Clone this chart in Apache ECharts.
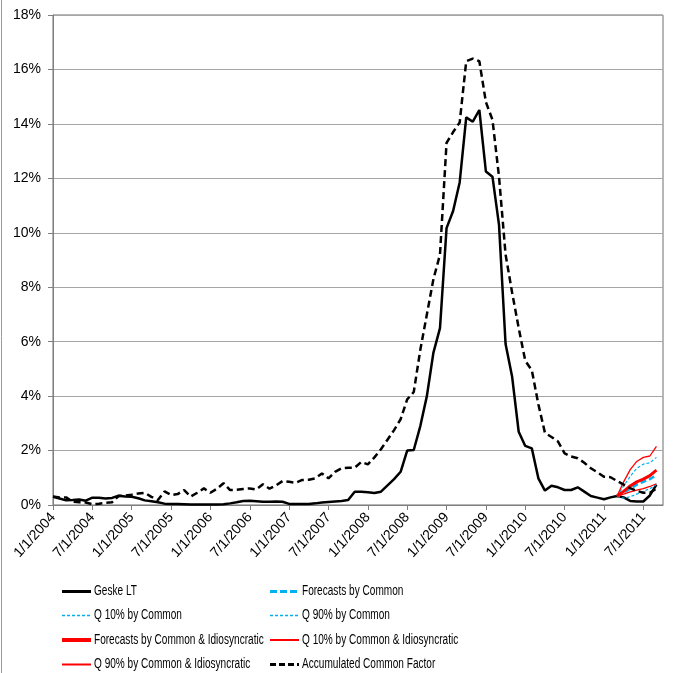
<!DOCTYPE html>
<html>
<head>
	<meta http-equiv="content-type" content="text/html;charset=utf-8">
	<title>Geske LT</title>
	<script src="https://cdn.jsdelivr.net/npm/echarts@6/dist/echarts.min.js" type="text/javascript"></script>
	<style>
		html, body { margin: 0; padding: 0; background: #fff; }
		#chartcontainer1 { width: 675px; height: 673px; }
	</style>
</head>
<body>
<div id="chartcontainer1"></div>
<script type="text/javascript">
	// monthly data, Jan 2004 .. Sep 2011 (values in %)
	var geskeLT = [
		0.30, 0.24, 0.17, 0.18, 0.20, 0.16, 0.27, 0.27, 0.24, 0.26, 0.34, 0.31,
		0.30, 0.25, 0.17, 0.14, 0.10, 0.05, 0.04, 0.04, 0.03, 0.02, 0.02, 0.02,
		0.02, 0.02, 0.03, 0.06, 0.10, 0.15, 0.16, 0.14, 0.12, 0.12, 0.13, 0.12,
		0.04, 0.04, 0.04, 0.04, 0.06, 0.09, 0.11, 0.13, 0.15, 0.18, 0.49, 0.49,
		0.47, 0.44, 0.49, 0.72, 0.95, 1.22, 2.00, 2.02, 2.90, 4.00, 5.60, 6.50,
		10.17, 10.80, 11.85, 14.24, 14.08, 14.51, 12.25, 12.06, 10.29, 5.91, 4.71, 2.69,
		2.17, 2.08, 0.98, 0.53, 0.71, 0.65, 0.55, 0.55, 0.65, 0.49, 0.33, 0.27,
		0.21, 0.28, 0.33, 0.28, 0.15, 0.13, 0.13, 0.35, 0.75
	];
	var accumCommon = [
		0.31, 0.28, 0.28, 0.12, 0.10, 0.09, 0.03, 0.05, 0.08, 0.10, 0.33, 0.35,
		0.38, 0.42, 0.45, 0.30, 0.18, 0.50, 0.37, 0.40, 0.55, 0.31, 0.45, 0.61,
		0.45, 0.60, 0.80, 0.55, 0.56, 0.59, 0.61, 0.57, 0.76, 0.60, 0.72, 0.88,
		0.85, 0.82, 0.92, 0.93, 0.98, 1.16, 0.98, 1.22, 1.35, 1.37, 1.37, 1.58,
		1.49, 1.75, 2.05, 2.40, 2.75, 3.15, 3.88, 4.15, 5.70, 7.00, 8.30, 9.20,
		13.30, 13.70, 14.05, 16.30, 16.40, 16.30, 14.80, 14.15, 12.06, 9.20, 7.80, 6.50,
		5.30, 4.95, 3.70, 2.65, 2.50, 2.33, 1.90, 1.78, 1.72, 1.55, 1.35, 1.20,
		1.04, 1.02, 0.88, 0.75, 0.62, 0.52, 0.45, 0.45, 0.60
	];

	// forecasts start at Mar 2011 (month index 86)
	var forecastStart = 86;
	var fcCommon   = [0.33, 0.45, 0.60, 0.75, 0.85, 0.95, 1.10];
	var q10Common  = [0.33, 0.25, 0.30, 0.40, 0.50, 0.60, 0.75];
	var q90Common  = [0.33, 0.70, 1.05, 1.35, 1.50, 1.55, 1.75];
	var fcIdio     = [0.33, 0.50, 0.70, 0.85, 0.95, 1.08, 1.28];
	var q10Idio    = [0.33, 0.40, 0.48, 0.55, 0.60, 0.68, 0.78];
	var q90Idio    = [0.33, 0.85, 1.30, 1.60, 1.75, 1.80, 2.15];

	var yTicks = { min: 0, max: 18, step: 2 };

	// x categories: 1/1/2004 .. 10/1/2011
	var categories = [];
	for (var i = 0; i < 94; i++) {
		categories.push((i % 12 + 1) + "/1/" + (2004 + Math.floor(i / 12)));
	}

	var BLUE = '#00b0f0', RED = '#ff0000', BLACK = '#000000';
	var axisFont = '"Liberation Sans", Arial, sans-serif';

	// series look: name, color, width, dash
	var seriesStyles = [
		['Geske LT', BLACK, 2.5, 'solid'],
		['Forecasts by Common', BLUE, 2.5, [6, 3]],
		['Q 10% by Common', BLUE, 1.2, [3, 2]],
		['Q 90% by Common', BLUE, 1.2, [3, 2]],
		['Forecasts by Common & Idiosyncratic', RED, 3, 'solid'],
		['Q 10% by Common & Idiosyncratic', RED, 1.3, 'solid'],
		['Q 90% by Common & Idiosyncratic', RED, 1.3, 'solid'],
		['Accumulated Common Factor', BLACK, 2.5, [7, 4]]
	];

	function padForecast(vals) {
		var arr = [];
		for (var k = 0; k < forecastStart; k++) arr.push(null);
		return arr.concat(vals);
	}

	var seriesData = [geskeLT, padForecast(fcCommon), padForecast(q10Common), padForecast(q90Common),
		padForecast(fcIdio), padForecast(q10Idio), padForecast(q90Idio), accumCommon];

	var series = [];
	for (var s = 0; s < seriesStyles.length; s++) {
		series.push({
			name: seriesStyles[s][0],
			type: 'line',
			data: seriesData[s],
			symbol: 'none',
			animation: false,
			lineStyle: { color: seriesStyles[s][1], width: seriesStyles[s][2], type: seriesStyles[s][3] }
		});
	}

	// legend drawn by hand: 2 columns x 4 rows, narrow text like the original
	function legendGraphics() {
		var out = [];
		var colX = [62, 270];
		var rowY = [591.5, 615.5, 640, 664.5];
		// legend icon widths a bit heavier than plot lines
		var iconW = [3, 3, 1.5, 1.5, 4, 2, 2, 3];
		var iconDash = [null, [7, 3], [3, 2], [3, 2], null, null, null, [6, 3]];
		for (var n = 0; n < seriesStyles.length; n++) {
			var cx = colX[n % 2], cy = rowY[Math.floor(n / 2)];
			out.push({
				type: 'line',
				shape: { x1: cx, y1: cy, x2: cx + 29, y2: cy },
				style: { stroke: seriesStyles[n][1], lineWidth: iconW[n], lineDash: iconDash[n] },
				silent: true
			});
			out.push({
				type: 'text',
				x: cx + 32,
				y: cy,
				scaleX: 0.72,
				style: {
					text: seriesStyles[n][0],
					fill: '#000',
					font: '14px "Liberation Sans", Arial, sans-serif',
					verticalAlign: 'middle',
					align: 'left'
				},
				silent: true
			});
		}
		// left edge of the chart area frame
		out.push({
			type: 'line',
			shape: { x1: 1.5, y1: 0, x2: 1.5, y2: 673 },
			style: { stroke: '#9a9a9a', lineWidth: 1 },
			silent: true
		});
		return out;
	}

	var myChart = echarts.init(document.getElementById('chartcontainer1'), null, { renderer: 'canvas' });
	var option = {
		backgroundColor: '#fff',
		animation: false,
		grid: { left: 53, right: 12, top: 15, bottom: 168, show: true, borderColor: '#6f6f6f', borderWidth: 1 },
		xAxis: {
			type: 'category',
			data: categories,
			boundaryGap: false,
			axisLine: { lineStyle: { color: '#7f7f7f', width: 1 } },
			axisTick: { interval: 5, length: 5, lineStyle: { color: '#7f7f7f' } },
			axisLabel: { interval: 5, rotate: 48, margin: 10, color: '#000', fontSize: 14, fontFamily: axisFont },
			splitLine: { show: false }
		},
		yAxis: {
			type: 'value',
			min: yTicks.min,
			max: yTicks.max,
			interval: yTicks.step,
			axisLine: { show: true, lineStyle: { color: '#7f7f7f', width: 1 } },
			axisTick: { show: true, length: 5, lineStyle: { color: '#7f7f7f' } },
			axisLabel: { formatter: '{value}%', margin: 12, color: '#000', fontSize: 14, fontFamily: axisFont },
			splitLine: { show: true, lineStyle: { color: '#a6a6a6', width: 1 } }
		},
		graphic: legendGraphics(),
		series: series
	};
	myChart.setOption(option);
</script>
</body>
</html>
